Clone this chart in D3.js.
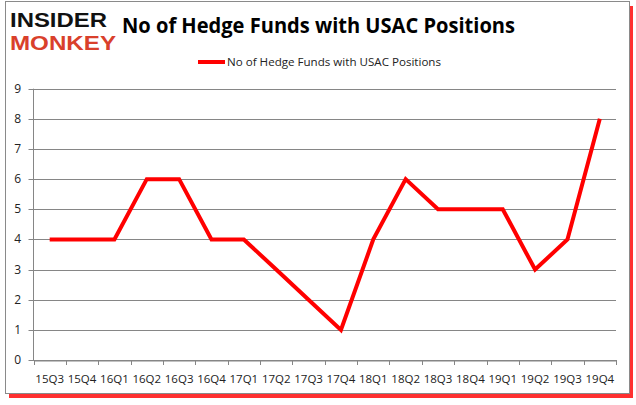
<!DOCTYPE html>
<html>
<head>
<meta charset="utf-8">
<script src="https://cdn.jsdelivr.net/npm/d3@7"></script>
<style>
  html, body { margin: 0; padding: 0; background: #ffffff; }
  svg { display: block; }
</style>
</head>
<body>
<svg id="chart" width="636" height="405"></svg>
<script>
// Donnees du graphique
const quarters = ["15Q3", "15Q4", "16Q1", "16Q2", "16Q3", "16Q4", "17Q1", "17Q2", "17Q3",
                  "17Q4", "18Q1", "18Q2", "18Q3", "18Q4", "19Q1", "19Q2", "19Q3", "19Q4"];
const hedgeFunds = [4, 4, 4, 6, 6, 4, 4, 3, 2, 1, 4, 6, 5, 5, 5, 3, 4, 8];
const yTicks = [0, 1, 2, 3, 4, 5, 6, 7, 8, 9];
const titleText = "No of Hedge Funds with USAC Positions";
const legendText = "No of Hedge Funds with USAC Positions";

const svg = d3.select("#chart");
const font = "'Open Sans', 'DejaVu Sans', sans-serif";

// Cadre avec ombre rouge
svg.append("rect")
    .attr("x", 9).attr("y", 6).attr("width", 624).attr("height", 392)
    .attr("fill", "#ff1a1a").attr("opacity", 0.9);
svg.append("rect")
    .attr("x", 5.5).attr("y", 1.5).attr("width", 624).attr("height", 392)
    .attr("fill", "#ffffff").attr("stroke", "#8a8a8a").attr("stroke-width", 1);

// Logo
svg.append("text")
    .attr("x", 10).attr("y", 27)
    .attr("font-family", "'Liberation Sans', sans-serif").attr("font-weight", "bold")
    .attr("font-size", 20).attr("fill", "#111111")
    .attr("textLength", 97).attr("lengthAdjust", "spacingAndGlyphs")
    .text("INSIDER");
svg.append("text")
    .attr("x", 10).attr("y", 50)
    .attr("font-family", "'Liberation Sans', sans-serif").attr("font-weight", "bold")
    .attr("font-size", 20).attr("fill", "#d9402b")
    .attr("textLength", 106).attr("lengthAdjust", "spacingAndGlyphs")
    .text("MONKEY");

// Titre
svg.append("text")
    .attr("x", 122).attr("y", 33)
    .attr("font-family", font).attr("font-weight", "bold")
    .attr("font-size", 21).attr("fill", "#000000")
    .attr("textLength", 393).attr("lengthAdjust", "spacingAndGlyphs")
    .text(titleText);

// Legende
svg.append("line")
    .attr("x1", 198).attr("x2", 225).attr("y1", 62).attr("y2", 62)
    .attr("stroke", "#ff0000").attr("stroke-width", 4);
svg.append("text")
    .attr("x", 227).attr("y", 66)
    .attr("font-family", font).attr("font-size", 11.5).attr("fill", "#222222")
    .attr("textLength", 214).attr("lengthAdjust", "spacingAndGlyphs")
    .text(legendText);

// Echelles
const margin = { left: 33.5, right: 616, top: 88.7, bottom: 360 };
const x = d3.scaleBand().domain(quarters).range([margin.left, margin.right]);
const y = d3.scaleLinear().domain([0, 9]).range([margin.bottom, margin.top]);

// Grille horizontale
svg.append("g")
    .selectAll("line")
    .data(yTicks)
    .enter()
    .append("line")
    .attr("x1", margin.left - 5).attr("x2", margin.right)
    .attr("y1", d => Math.round(y(d)) + 0.5).attr("y2", d => Math.round(y(d)) + 0.5)
    .attr("stroke", "#868686").attr("stroke-width", 1);

// Axe vertical
svg.append("line")
    .attr("x1", margin.left).attr("x2", margin.left)
    .attr("y1", margin.top).attr("y2", margin.bottom)
    .attr("stroke", "#868686");

svg.append("g")
    .selectAll("text")
    .data(yTicks)
    .enter()
    .append("text")
    .attr("x", 21).attr("y", d => y(d) + 4)
    .attr("text-anchor", "end")
    .attr("font-family", font).attr("font-size", 12).attr("fill", "#222222")
    .text(d => d);

// Axe horizontal
const xAxis = d3.axisBottom(x).tickSize(0).tickPadding(14);
const gx = svg.append("g")
    .attr("transform", `translate(0,${Math.round(margin.bottom) + 0.5})`)
    .call(xAxis);
gx.select(".domain").attr("stroke", "#868686");
gx.selectAll("text")
    .attr("font-family", font).attr("font-size", 11.5).attr("fill", "#222222");

// Graduations entre les categories
const boundaries = quarters.map(q => x(q)).concat([x.range()[1]]);
svg.append("g")
    .selectAll("line")
    .data(boundaries)
    .enter()
    .append("line")
    .attr("x1", d => Math.round(d) + 0.5).attr("x2", d => Math.round(d) + 0.5)
    .attr("y1", margin.bottom).attr("y2", margin.bottom + 5)
    .attr("stroke", "#868686");

// Courbe
const line = d3.line()
    .x((d, i) => x(quarters[i]) + x.bandwidth() / 2)
    .y(d => y(d));

svg.append("path")
    .datum(hedgeFunds)
    .attr("d", line)
    .attr("fill", "none")
    .attr("stroke", "#ff0000")
    .attr("stroke-width", 4)
    .attr("stroke-linejoin", "miter");
</script>
</body>
</html>
